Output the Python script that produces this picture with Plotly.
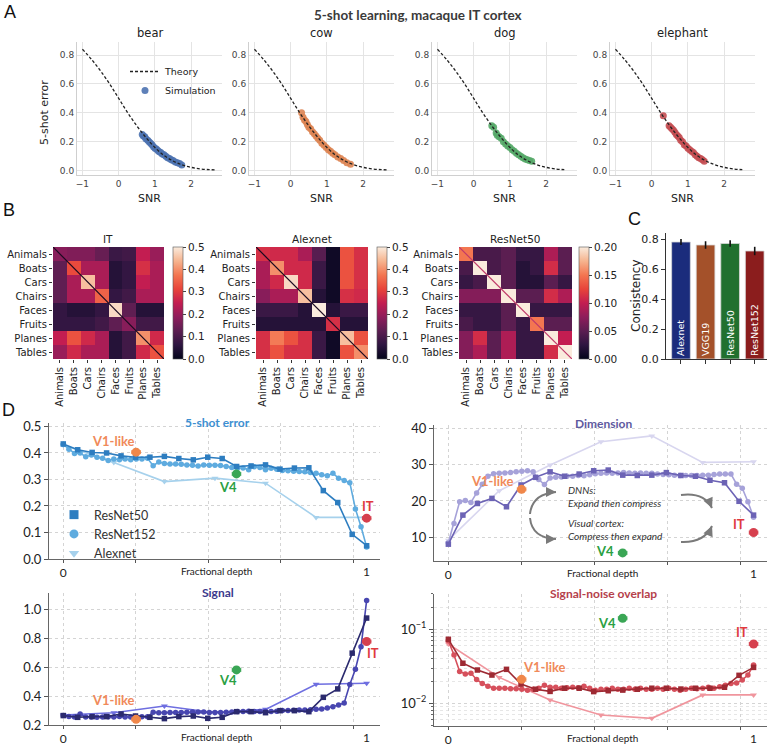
import math
import plotly.graph_objects as go

W, H = 769, 747
def px(x): return x / W
def py(y): return 1 - y / H
def xdom(a, b): return [a / W, b / W]
def ydom(top, bottom): return [1 - bottom / H, 1 - top / H]

# ================= DATA =================
# ---- Panel A ----
animal_names = ["bear", "cow", "dog", "elephant"]
animal_colors = ["#4c72b0", "#dd8452", "#55a868", "#c44e52"]
theory_snr = [-1.0, -0.75, -0.5, -0.25, 0.0, 0.25, 0.5, 0.75, 1.0, 1.25, 1.5, 1.75, 2.0, 2.25, 2.5, 2.7]
theory_err = [0.84, 0.77, 0.69, 0.60, 0.50, 0.40, 0.31, 0.23, 0.16, 0.105, 0.067, 0.040, 0.023, 0.012, 0.007, 0.005]
theory_end = [2.7, 2.7, 2.6, 2.5]

bear_snr = [0.65, 0.68, 0.72, 0.75, 0.80, 0.84, 0.88, 0.92, 0.96, 1.00, 1.04, 1.08, 1.12, 1.16, 1.20,
            1.25, 1.30, 1.35, 1.40, 1.45, 1.50, 1.56, 1.62, 1.68, 1.74]
bear_err = [0.25, 0.24, 0.235, 0.22, 0.21, 0.20, 0.19, 0.18, 0.165, 0.155, 0.15, 0.14, 0.13, 0.125, 0.115,
            0.11, 0.10, 0.09, 0.085, 0.075, 0.07, 0.06, 0.055, 0.05, 0.04]
cow_snr = [0.30, 0.34, 0.38, 0.42, 0.46, 0.50, 0.55, 0.60, 0.65, 0.70, 0.75, 0.80, 0.86, 0.92, 0.98,
           1.04, 1.10, 1.16, 1.22, 1.30, 1.38, 1.46, 1.55, 1.65]
cow_err = [0.40, 0.37, 0.35, 0.34, 0.32, 0.30, 0.29, 0.27, 0.255, 0.24, 0.225, 0.21, 0.19, 0.175, 0.16,
           0.145, 0.135, 0.12, 0.11, 0.095, 0.085, 0.07, 0.055, 0.045]
dog_snr = [0.50, 0.55, 0.62, 0.65, 0.70, 0.76, 0.82, 0.88, 0.94, 1.00, 1.06, 1.12, 1.18, 1.24, 1.30,
           1.36, 1.42, 1.48, 1.54, 1.60]
dog_err = [0.31, 0.30, 0.26, 0.245, 0.235, 0.225, 0.20, 0.185, 0.17, 0.16, 0.145, 0.135, 0.12, 0.11, 0.10,
           0.09, 0.08, 0.075, 0.07, 0.065]
ele_snr = [0.32, 0.48, 0.52, 0.56, 0.60, 0.64, 0.68, 0.72, 0.76, 0.80, 0.85, 0.90, 0.95, 1.00, 1.05,
           1.10, 1.15, 1.20, 1.25, 1.30, 1.35, 1.40, 1.45]
ele_err = [0.38, 0.31, 0.30, 0.29, 0.28, 0.265, 0.25, 0.24, 0.23, 0.21, 0.20, 0.18, 0.17, 0.155, 0.145,
           0.135, 0.125, 0.11, 0.10, 0.09, 0.085, 0.075, 0.065]

# ---- Panel B ----
object_cats = ["Animals", "Boats", "Cars", "Chairs", "Faces", "Fruits", "Planes", "Tables"]
it_matrix = [
    [0.18, 0.17, 0.17, 0.14, 0.08, 0.09, 0.25, 0.20],
    [0.13, 0.32, 0.22, 0.22, 0.05, 0.07, 0.28, 0.22],
    [0.13, 0.22, 0.45, 0.22, 0.05, 0.07, 0.25, 0.22],
    [0.13, 0.22, 0.22, 0.35, 0.07, 0.09, 0.22, 0.22],
    [0.07, 0.05, 0.05, 0.07, 0.48, 0.13, 0.05, 0.05],
    [0.07, 0.07, 0.07, 0.09, 0.13, 0.18, 0.09, 0.09],
    [0.25, 0.33, 0.27, 0.22, 0.05, 0.09, 0.40, 0.27],
    [0.20, 0.27, 0.22, 0.22, 0.05, 0.09, 0.27, 0.33],
]
alexnet_matrix = [
    [0.28, 0.27, 0.27, 0.22, 0.12, 0.02, 0.33, 0.28],
    [0.22, 0.40, 0.27, 0.27, 0.08, 0.02, 0.33, 0.28],
    [0.22, 0.27, 0.48, 0.27, 0.08, 0.02, 0.33, 0.28],
    [0.18, 0.22, 0.22, 0.45, 0.05, 0.02, 0.28, 0.27],
    [0.08, 0.08, 0.08, 0.05, 0.50, 0.05, 0.08, 0.08],
    [0.05, 0.05, 0.05, 0.05, 0.05, 0.28, 0.05, 0.05],
    [0.28, 0.38, 0.33, 0.28, 0.08, 0.02, 0.45, 0.33],
    [0.28, 0.33, 0.28, 0.28, 0.08, 0.02, 0.33, 0.40],
]
resnet50_matrix = [
    [0.15, 0.04, 0.04, 0.05, 0.03, 0.03, 0.09, 0.05],
    [0.04, 0.20, 0.04, 0.05, 0.02, 0.03, 0.11, 0.05],
    [0.03, 0.04, 0.20, 0.05, 0.02, 0.02, 0.05, 0.03],
    [0.07, 0.07, 0.07, 0.20, 0.05, 0.05, 0.11, 0.09],
    [0.03, 0.03, 0.03, 0.05, 0.20, 0.03, 0.03, 0.03],
    [0.04, 0.03, 0.03, 0.05, 0.03, 0.15, 0.05, 0.05],
    [0.07, 0.11, 0.05, 0.09, 0.03, 0.03, 0.20, 0.10],
    [0.07, 0.09, 0.05, 0.09, 0.03, 0.03, 0.11, 0.20],
]
heatmap_titles = ["IT", "Alexnet", "ResNet50"]
heatmap_zmax = [0.5, 0.5, 0.2]
cb_ticks_05 = [0.0, 0.1, 0.2, 0.3, 0.4, 0.5]
cb_ticks_02 = [0.0, 0.05, 0.10, 0.15, 0.20]

# ---- Panel C ----
consistency_models = ["Alexnet", "VGG19", "ResNet50", "ResNet152"]
consistency_vals = [0.78, 0.76, 0.77, 0.72]
consistency_errs = [0.02, 0.025, 0.022, 0.028]
consistency_colors = ["#1b2c7c", "#a4512a", "#21702f", "#8b1d1d"]

# ---- Panel D ----
r50_err = [0.434, 0.412, 0.402, 0.400, 0.389, 0.384, 0.384, 0.387, 0.379, 0.374, 0.384, 0.379,
           0.349, 0.351, 0.355, 0.339, 0.343, 0.344, 0.258, 0.213, 0.093, 0.050]
r152_err = [0.432, 0.414, 0.398, 0.400, 0.386, 0.392, 0.384, 0.380, 0.372, 0.377, 0.374, 0.377,
            0.374, 0.377, 0.377, 0.380, 0.352, 0.366, 0.360, 0.358, 0.358, 0.357, 0.355, 0.354,
            0.351, 0.355, 0.354, 0.354, 0.353, 0.349, 0.345, 0.343, 0.343, 0.337, 0.348, 0.345,
            0.337, 0.342, 0.339, 0.334, 0.333, 0.331, 0.330, 0.329, 0.326, 0.323, 0.318, 0.314,
            0.323, 0.305, 0.296, 0.288, 0.189, 0.122, 0.045]
alex_err = [0.430, 0.364, 0.292, 0.305, 0.286, 0.157, 0.157]

r50_dim = [8.1, 16.1, 19.3, 20.7, 18.4, 24.4, 26.5, 28.0, 26.8, 27.4, 28.3, 28.5,
           27.1, 27.0, 27.1, 27.8, 27.0, 26.8, 25.7, 25.0, 19.9, 16.1]
r152_dim = [8.5, 13.8, 19.8, 20.1, 19.6, 22.2, 24.6, 26.8, 27.5, 27.6, 27.7, 27.8,
            28.0, 28.2, 28.3, 28.0, 25.9, 24.5, 26.3, 26.5, 26.6, 26.8, 26.8, 27.0,
            26.9, 27.2, 27.5, 27.6, 27.7, 27.6, 27.7, 27.8, 27.7, 27.6, 27.7, 27.6,
            27.6, 27.4, 27.3, 27.2, 27.1, 27.0, 27.0, 27.0, 27.0, 27.1, 27.1, 27.3,
            27.4, 27.4, 27.4, 24.6, 23.5, 19.8, 15.5]
alex_dim = [9.2, 22.8, 29.9, 36.3, 37.9, 30.6, 30.8]

r50_sig = [0.265, 0.253, 0.258, 0.258, 0.276, 0.262, 0.253, 0.244, 0.258, 0.262, 0.246, 0.253,
           0.292, 0.292, 0.285, 0.299, 0.299, 0.292, 0.391, 0.449, 0.696, 0.938]
r152_sig = [0.265, 0.258, 0.255, 0.276, 0.256, 0.255, 0.253, 0.256, 0.257, 0.255, 0.258, 0.256,
            0.255, 0.255, 0.257, 0.257, 0.288, 0.285, 0.285, 0.286, 0.287, 0.287, 0.288, 0.289,
            0.289, 0.289, 0.287, 0.287, 0.287, 0.288, 0.290, 0.294, 0.294, 0.295, 0.294, 0.294,
            0.293, 0.294, 0.295, 0.300, 0.300, 0.302, 0.304, 0.304, 0.305, 0.308, 0.310, 0.318,
            0.326, 0.338, 0.352, 0.480, 0.585, 0.740, 1.060]
alex_sig = [0.269, 0.285, 0.331, 0.285, 0.308, 0.481, 0.488]

r50_ovl = [0.0733, 0.0348, 0.0282, 0.0241, 0.0288, 0.0182, 0.0155, 0.0145, 0.0160, 0.0160, 0.0144,
           0.0148, 0.0151, 0.0155, 0.0160, 0.0160, 0.0156, 0.0160, 0.0160, 0.0165, 0.0239, 0.0306]
r152_ovl = [0.070, 0.045, 0.027, 0.025, 0.0255, 0.021, 0.0185, 0.017, 0.016, 0.016, 0.016, 0.0158,
            0.0158, 0.0155, 0.015, 0.0155, 0.016, 0.0175, 0.0165, 0.0165, 0.016, 0.0162, 0.0165,
            0.0163, 0.017, 0.016, 0.015, 0.0155, 0.0155, 0.016, 0.0155, 0.0155, 0.016, 0.0155,
            0.016, 0.0155, 0.0155, 0.016, 0.0155, 0.016, 0.0155, 0.015, 0.0155, 0.016, 0.0158,
            0.016, 0.0165, 0.016, 0.0168, 0.0175, 0.0186, 0.0189, 0.0207, 0.0241, 0.033]
alex_ovl = [0.0634, 0.0224, 0.0111, 0.00695, 0.00627, 0.0130, 0.0130]

regions = ["V1-like", "V4", "IT"]
region_depth = [0.24, 0.571, 1.0]
region_xerr = [0.014, 0.014, 0.014]
region_err = [0.403, 0.321, 0.154]
region_dim = [23.2, 5.7, 11.3]
region_sig = [0.239, 0.580, 0.776]
region_ovl = [0.0211, 0.141, 0.0634]
region_marker_colors = ["#f0874a", "#3aa655", "#d6404e"]
region_text_colors = ["#f08a5a", "#2aa043", "#e03a3e"]

# ================= FIGURE =================
fig = go.Figure()
axes = {}
annotations = []
shapes = []

def add_axes(n, xd, yd, xo, yo):
    s = '' if n == 1 else str(n)
    xa = dict(domain=xd, anchor='y' + s, automargin=False); xa.update(xo)
    ya = dict(domain=yd, anchor='x' + s, automargin=False); ya.update(yo)
    axes['xaxis' + s] = xa
    axes['yaxis' + s] = ya
    return 'x' + s, 'y' + s

def ann(text, x, y, size=11, color='#222', xref='paper', yref='paper', family=None, **kw):
    f = dict(size=size, color=color)
    if family: f['family'] = family
    d = dict(text=text, x=x, y=y, xref=xref, yref=yref, showarrow=False, font=f,
             xanchor='center', yanchor='middle')
    d.update(kw)
    annotations.append(d)

SANS = "DejaVu Sans"
MYR = "Lato"

# ---- Panel A ----
sim_snr = [bear_snr, cow_snr, dog_snr, ele_snr]
sim_err = [bear_err, cow_err, dog_err, ele_err]
A_x = [(77, 222), (249, 394), (432, 577), (610, 755)]
for i, name in enumerate(animal_names):
    xo = dict(range=[-1.15, 2.85], tickvals=[-1, 0, 1, 2], ticktext=['\u22121', '0', '1', '2'],
              showgrid=True, gridcolor='#e4e4e4', zeroline=False, showline=True, linecolor='#cfcfcf',
              ticks='', tickfont=dict(size=9, color='#444', family=SANS),
              title=dict(text='SNR', font=dict(size=11, color='#222', family=SANS), standoff=6))
    yo = dict(range=[-0.03, 0.89], tickvals=[0, 0.2, 0.4, 0.6, 0.8],
              ticktext=['0.0', '0.2', '0.4', '0.6', '0.8'],
              showgrid=True, gridcolor='#e4e4e4', zeroline=False, showline=True, linecolor='#cfcfcf',
              ticks='', tickfont=dict(size=9, color='#444', family=SANS))
    xr, yr = add_axes(i + 1, xdom(*A_x[i]), ydom(42, 175), xo, yo)
    fig.add_trace(go.Scatter(x=sim_snr[i], y=sim_err[i], mode='markers', name='Simulation',
                             marker=dict(color=animal_colors[i], size=7, opacity=0.9, line=dict(width=0)),
                             showlegend=(i == 0), legendrank=2, xaxis=xr, yaxis=yr, hoverinfo='skip'))
    tx = [s for s in theory_snr if s <= theory_end[i]]
    ty = theory_err[:len(tx)]
    fig.add_trace(go.Scatter(x=tx, y=ty, mode='lines', name='Theory', line_shape='spline',
                             line=dict(color='#222', width=1.3, dash='3px,2px'),
                             showlegend=(i == 0), legendrank=1, xaxis=xr, yaxis=yr, hoverinfo='skip'))
    ann(name, px((A_x[i][0] + A_x[i][1]) / 2), py(33), size=11.5, family=SANS)

ann('5-shot error', px(44), py(113), size=11, family=SANS, textangle=-90)
ann('<b>5-shot learning, macaque IT cortex</b>', px(418), py(15), size=13.5, color='#3a3a3a', family=MYR)

# ---- Panel B ----
rocket = [[0.0, '#03051a'], [0.125, '#2d1540'], [0.25, '#5b1e51'], [0.375, '#8e1d5b'],
          [0.5, '#c31d51'], [0.625, '#e8443a'], [0.75, '#f37651'], [0.875, '#f6b48f'], [1.0, '#faebdd']]
mats = [it_matrix, alexnet_matrix, resnet50_matrix]
B_x = [(53, 164), (256, 368), (459, 572)]
B_cb = [173, 377, 579]
diag_colors = ['#1a0a20', '#1a0a20', '#c03a6a']
for j in range(3):
    n = 5 + j
    xo = dict(range=[-0.5, 7.5], tickvals=list(range(8)), ticktext=object_cats, tickangle=-90,
              ticks='outside', ticklen=3, tickcolor='#333', showgrid=False, zeroline=False, showline=False,
              tickfont=dict(size=10, color='#222', family=SANS))
    yo = dict(range=[7.5, -0.5], tickvals=list(range(8)), ticktext=object_cats,
              ticks='outside', ticklen=3, tickcolor='#333', showgrid=False, zeroline=False, showline=False,
              tickfont=dict(size=10, color='#222', family=SANS))
    xr, yr = add_axes(n, xdom(*B_x[j]), ydom(247, 359), xo, yo)
    tv = cb_ticks_05 if heatmap_zmax[j] == 0.5 else cb_ticks_02
    tt = ['%.1f' % v for v in tv] if heatmap_zmax[j] == 0.5 else ['%.2f' % v for v in tv]
    fig.add_trace(go.Heatmap(z=mats[j], x=list(range(8)), y=list(range(8)), zmin=0, zmax=heatmap_zmax[j],
                             colorscale=rocket, xaxis=xr, yaxis=yr, hoverinfo='skip',
                             colorbar=dict(x=px(B_cb[j]), xanchor='left', y=py(303), yanchor='middle',
                                           len=112 / H, lenmode='fraction', thickness=10, thicknessmode='pixels',
                                           xpad=0, ypad=0, tickvals=tv, ticktext=tt, ticks='outside', ticklen=3,
                                           outlinewidth=0.6, outlinecolor='#555',
                                           tickfont=dict(size=10.5, color='#222', family=SANS))))
    shapes.append(dict(type='line', xref=xr, yref=yr, x0=-0.5, y0=-0.5, x1=7.5, y1=7.5,
                       line=dict(color=diag_colors[j], width=1.2)))
    ann(heatmap_titles[j], px((B_x[j][0] + B_x[j][1]) / 2), py(239), size=10.5, family=SANS)

# ---- Panel C ----
xo = dict(range=[-0.61, 3.5], tickvals=[0, 1, 2, 3], ticktext=['', '', '', ''], ticks='outside', ticklen=4,
          tickcolor='#333', showline=True, linecolor='#333', linewidth=1, showgrid=False, zeroline=False)
yo = dict(range=[0, 0.84], tickvals=[0, 0.2, 0.4, 0.6, 0.8], ticktext=['0.0', '0.2', '0.4', '0.6', '0.8'],
          ticks='outside', ticklen=4, tickcolor='#333', showline=True, linecolor='#333', linewidth=1,
          showgrid=False, zeroline=False, tickfont=dict(size=11, color='#222', family=SANS))
xr, yr = add_axes(8, xdom(666, 767), ydom(233, 359), xo, yo)
fig.add_trace(go.Bar(x=[0, 1, 2, 3], y=consistency_vals, width=0.76,
                     marker=dict(color=consistency_colors, line=dict(color='#d8d8d8', width=0.8)),
                     error_y=dict(type='data', array=consistency_errs, color='#111', thickness=1.6, width=0),
                     text=consistency_models, textposition='inside', insidetextanchor='start', textangle=-90,
                     textfont=dict(color='white', size=9.5, family=SANS), showlegend=False,
                     xaxis=xr, yaxis=yr, hoverinfo='skip'))
ann('Consistency', px(636), py(296), size=12, family=SANS, textangle=-90)

# ---- Panel D ----
d_grid = dict(showgrid=True, griddash='dot', gridcolor='#d4d4d4', gridwidth=1, zeroline=False)
d_x = dict(range=[-0.047, 1.044], tickvals=[0, 0.239, 0.478, 0.717, 0.956], ticktext=['0', '', '', '', ''],
           ticks='outside', ticklen=3, tickcolor='#555', showline=True, linecolor='#666', linewidth=1,
           tickfont=dict(size=12, color='#222', family=MYR), **d_grid)

metrics = [
    dict(title='5-shot error', tcolor='#3d8fd1', dom=((49, 380), (423, 559)),
         y=dict(range=[0, 0.513], tickvals=[0, 0.1, 0.2, 0.3, 0.4, 0.5],
                ticktext=['0.0', '0.1', '0.2', '0.3', '0.4', '0.5']),
         data=(r50_err, r152_err, alex_err), reg=region_err,
         colors=('#2d7dc0', '#5eabdf', '#a6d1ec'),
         labels=[(0.165, 0.447), (0.544, 0.271), (1.005, 0.20)]),
    dict(title='Dimension', tcolor='#5e5a9e', dom=((434, 767), (425, 561)),
         y=dict(range=[3.47, 40.9], tickvals=[10, 20, 30, 40]),
         data=(r50_dim, r152_dim, alex_dim), reg=region_dim,
         colors=('#6c63b5', '#a6a2d9', '#d8d6ef'),
         labels=[(0.146, 25.5), (0.514, 6.2), (0.951, 13.6)]),
    dict(title='Signal', tcolor='#3c3a8c', dom=((49, 380), (593, 725)),
         y=dict(range=[0.2, 1.111], tickvals=[0.2, 0.4, 0.6, 0.8, 1.0],
                ticktext=['0.2', '0.4', '0.6', '0.8', '1.0']),
         data=(r50_sig, r152_sig, alex_sig), reg=region_sig,
         colors=('#2b2a6e', '#4846b0', '#6e6ee0'),
         labels=[(0.165, 0.373), (0.544, 0.511), (1.022, 0.70)]),
    dict(title='Signal-noise overlap', tcolor='#b5414b', dom=((434, 767), (594, 726)),
         y=dict(type='log', range=[-2.306, -0.523], tickvals=[0.01, 0.1],
                ticktext=['10<sup>\u22122</sup>', '10<sup>\u22121</sup>'],
                minor=dict(ticks='outside', ticklen=2, tickcolor='#666', showgrid=True, griddash='dot',
                           gridcolor='#e6e6e6',
                           tickvals=[0.005, 0.006, 0.007, 0.008, 0.009, 0.02, 0.03, 0.04, 0.05, 0.06,
                                     0.07, 0.08, 0.09, 0.2, 0.3])),
         data=(r50_ovl, r152_ovl, alex_ovl), reg=region_ovl,
         colors=('#9e2a33', '#d6505c', '#f0959d'),
         labels=[(0.316, 0.0306), (0.519, 0.12), (0.962, 0.093)]),
]

for k, m in enumerate(metrics):
    n = 9 + k
    yo = dict(ticks='outside', ticklen=4, tickcolor='#555', showline=True, linecolor='#666', linewidth=1,
              tickfont=dict(size=13, color='#222', family=MYR), **d_grid)
    yo.update(m['y'])
    (x0, x1), (t, b) = m['dom']
    xr, yr = add_axes(n, xdom(x0, x1), ydom(t, b), dict(d_x), yo)
    r50, r152, alex = m['data']
    c50, c152, cal = m['colors']
    fig.add_trace(go.Scatter(x=[i / (len(alex) - 1) for i in range(len(alex))], y=alex, mode='lines+markers',
                             line=dict(color=cal, width=1.6), marker=dict(symbol='triangle-down', size=6, color=cal),
                             showlegend=False, xaxis=xr, yaxis=yr, hoverinfo='skip'))
    fig.add_trace(go.Scatter(x=[i / (len(r152) - 1) for i in range(len(r152))], y=r152, mode='lines+markers',
                             line=dict(color=c152, width=1.6), marker=dict(symbol='circle', size=5.5, color=c152),
                             showlegend=False, xaxis=xr, yaxis=yr, hoverinfo='skip'))
    fig.add_trace(go.Scatter(x=[i / (len(r50) - 1) for i in range(len(r50))], y=r50, mode='lines+markers',
                             line=dict(color=c50, width=1.6), marker=dict(symbol='square', size=5.5, color=c50),
                             showlegend=False, xaxis=xr, yaxis=yr, hoverinfo='skip'))
    for r in range(3):
        fig.add_trace(go.Scatter(x=[region_depth[r]], y=[m['reg'][r]], mode='markers',
                                 marker=dict(size=9, color=region_marker_colors[r]),
                                 error_x=dict(type='data', array=[region_xerr[r]], color=region_marker_colors[r],
                                              thickness=1, width=2),
                                 showlegend=False, xaxis=xr, yaxis=yr, hoverinfo='skip'))
        lx, ly = m['labels'][r]
        if m['y'].get('type') == 'log':
            ly = math.log10(ly)
        ann('<b>%s</b>' % regions[r], lx, ly, size=13, color=region_text_colors[r], xref=xr, yref=yr, family=MYR)
    ann('<b>%s</b>' % m['title'], px((x0 + x1) / 2 + 3), py(t - 1), size=12, color=m['tcolor'], family=MYR)
    ann('1', 1.0, py(b + 12), size=12, xref=xr, family=MYR)
    ann('Fractional depth', 0.505, py(b + 12), size=10, xref=xr, family=MYR)
    if k == 0:
        for lbl, c, sym in [('ResNet50', c50, 'square'), ('ResNet152', c152, 'circle'), ('Alexnet', cal, 'triangle-down')]:
            fig.add_trace(go.Scatter(x=[None], y=[None], mode='markers', name=lbl,
                                     marker=dict(symbol=sym, size=9, color=c), legend='legend2',
                                     xaxis=xr, yaxis=yr))

# Dimension annotations and arrows
ann('<i>DNNs:<br>Expand then compress</i>', px(566), py(496), size=10, color='#333', family=MYR,
    xanchor='left', align='left')
ann('<i>Visual cortex:<br>Compress then expand</i>', px(566), py(529), size=10, color='#333', family=MYR,
    xanchor='left', align='left')
arrow_paths = [((530, 514), (532, 494), (556, 492), (-7, 0)),
               ((530, 518), (532, 538), (556, 539), (-7, 0)),
               ((681, 495), (704, 492), (712, 508), (-3, -7)),
               ((681, 542), (704, 543), (712, 526), (-3, 7))]
for (s, c, e, (axo, ayo)) in arrow_paths:
    shapes.append(dict(type='path', xref='paper', yref='paper',
                       path='M %f,%f Q %f,%f %f,%f' % (px(s[0]), py(s[1]), px(c[0]), py(c[1]), px(e[0]), py(e[1])),
                       line=dict(color='#7a7a7a', width=2)))
    annotations.append(dict(x=px(e[0]), y=py(e[1]), xref='paper', yref='paper', ax=axo, ay=ayo,
                            showarrow=True, arrowhead=2, arrowsize=1, arrowwidth=2, arrowcolor='#7a7a7a', text=''))

# Panel letters
for L, x, y in [('A', 10, 12), ('B', 9, 210), ('C', 634, 219), ('D', 8, 410)]:
    ann(L, px(x), py(y), size=18, color='#111', family='Liberation Sans')

fig.update_layout(
    template='none',
    width=W, height=H, margin=dict(l=0, r=0, t=0, b=0, pad=0),
    paper_bgcolor='white', plot_bgcolor='white',
    font=dict(family=SANS, size=10, color='#222'),
    annotations=annotations, shapes=shapes,
    legend=dict(x=px(125), y=py(57), xanchor='left', yanchor='top', bgcolor='rgba(0,0,0,0)',
                font=dict(size=9.5, family=SANS, color='#222'), itemwidth=30, tracegroupgap=0),
    legend2=dict(x=px(54), y=py(500), xanchor='left', yanchor='top', bgcolor='rgba(0,0,0,0)',
                 font=dict(size=12.5, family=MYR, color='#333'), itemwidth=30, tracegroupgap=0),
    **axes,
)

fig.write_html("out.html", config={'displayModeBar': False},
               post_script="document.body.style.margin='0px';document.body.style.padding='0px';")
